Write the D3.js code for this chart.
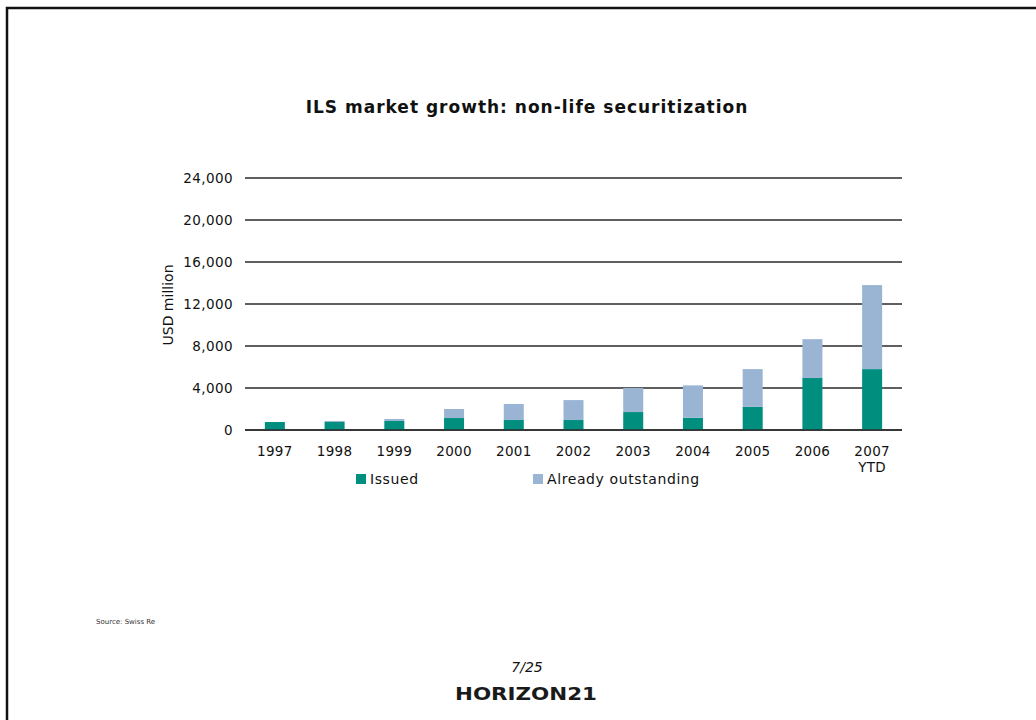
<!DOCTYPE html>
<html>
<head>
<meta charset="utf-8">
<script src="https://cdn.jsdelivr.net/npm/d3@7"></script>
<style>
  html, body { margin: 0; padding: 0; background: #fff; }
  svg { display: block; }
</style>
</head>
<body>
<svg id="chart" width="1036" height="720"></svg>
<script>
const categories = ["1997", "1998", "1999", "2000", "2001", "2002", "2003", "2004", "2005", "2006", "2007\nYTD"];
const issued = [760, 760, 860, 1140, 950, 950, 1710, 1170, 2200, 4950, 5800];
const outstanding = [0, 100, 190, 860, 1530, 1900, 2290, 3080, 3600, 3700, 8000];
const yTicks = [0, 4000, 8000, 12000, 16000, 20000, 24000];
const seriesNames = ["Issued", "Already outstanding"];
const colors = ["#008f7f", "#9ab5d3"];

const svg = d3.select("#chart");
const font = "'DejaVu Sans', Verdana, sans-serif";

// slide frame
svg.append("path").attr("d", "M7,1036 L7,8 L1036,8")
  .attr("fill", "none").attr("stroke", "#111").attr("stroke-width", 2.5);

const x = d3.scaleBand().domain(categories).range([245, 902]).paddingInner(0.665).paddingOuter(0.3325);
const y = d3.scaleLinear().domain([0, 24000]).range([430, 178]);

// title
svg.append("text").attr("x", 527).attr("y", 113).attr("text-anchor", "middle")
  .attr("font-family", font).attr("font-weight", "bold").attr("font-size", 17)
  .attr("letter-spacing", 1).attr("fill", "#111")
  .text("ILS market growth: non-life securitization");

// gridlines
svg.append("g").selectAll("line").data(yTicks).join("line")
  .attr("x1", 245).attr("x2", 902)
  .attr("y1", d => y(d)).attr("y2", d => y(d))
  .attr("stroke", "#2a2a2a").attr("stroke-width", 1.5);

// y axis labels
const yAxis = d3.axisLeft(y).tickValues(yTicks).tickSize(0).tickPadding(12)
  .tickFormat(d3.format(","));
const gy = svg.append("g").attr("transform", "translate(245,0)").call(yAxis);
gy.select(".domain").remove();
gy.selectAll("text").attr("font-family", font).attr("font-size", 13.5).attr("letter-spacing", 0.4).attr("fill", "#111");

// y axis title
svg.append("text").attr("transform", "translate(173,305) rotate(-90)")
  .attr("text-anchor", "middle").attr("font-family", font).attr("font-size", 14)
  .attr("fill", "#111").text("USD million");

// stacked bars
const data = categories.map((c, i) => ({ cat: c, Issued: issued[i], "Already outstanding": outstanding[i] }));
const stack = d3.stack().keys(seriesNames)(data);
svg.append("g").selectAll("g").data(stack).join("g")
  .attr("fill", (d, i) => colors[i])
  .selectAll("rect").data(d => d).join("rect")
  .attr("x", d => x(d.data.cat))
  .attr("width", x.bandwidth())
  .attr("y", d => y(d[1]))
  .attr("height", d => y(d[0]) - y(d[1]));

// baseline
svg.append("line").attr("x1", 245).attr("x2", 902).attr("y1", y(0)).attr("y2", y(0))
  .attr("stroke", "#2a2a2a").attr("stroke-width", 1.5);

// x axis labels
const xAxis = d3.axisBottom(x).tickSize(0).tickPadding(16);
const gx = svg.append("g").attr("transform", "translate(0,430)").call(xAxis);
gx.select(".domain").remove();
gx.selectAll("text").each(function(d) {
  const t = d3.select(this);
  const parts = d.split("\n");
  t.text(null);
  parts.forEach((p, i) => t.append("tspan").attr("x", 0).attr("dy", i === 0 ? "0.71em" : "1.25em").text(p));
}).attr("font-family", font).attr("font-size", 13.5).attr("letter-spacing", 0.3).attr("fill", "#111");

// legend
const legendX = [356, 533];
const lg = svg.append("g").selectAll("g").data(seriesNames).join("g")
  .attr("transform", (d, i) => `translate(${legendX[i]},474)`);
lg.append("rect").attr("width", 10).attr("height", 10).attr("fill", (d, i) => colors[i]);
lg.append("text").attr("x", 14).attr("y", 10).attr("font-family", font).attr("font-size", 14)
  .attr("letter-spacing", 0.6).attr("fill", "#111").text(d => d);

// source
svg.append("text").attr("x", 96).attr("y", 624).attr("font-family", font).attr("font-size", 7)
  .attr("fill", "#333").text("Source: Swiss Re");

// page number
svg.append("text").attr("x", 527).attr("y", 672).attr("text-anchor", "middle")
  .attr("font-family", font).attr("font-style", "italic").attr("font-size", 14)
  .attr("fill", "#111").text("7/25");

// logo
svg.append("text").attr("x", 455).attr("y", 700)
  .attr("font-family", "'DejaVu Sans', sans-serif").attr("font-weight", "bold").attr("font-size", 18)
  .attr("textLength", 142).attr("lengthAdjust", "spacingAndGlyphs")
  .attr("fill", "#1a1a1a").text("HORIZON21");
</script>
</body>
</html>
